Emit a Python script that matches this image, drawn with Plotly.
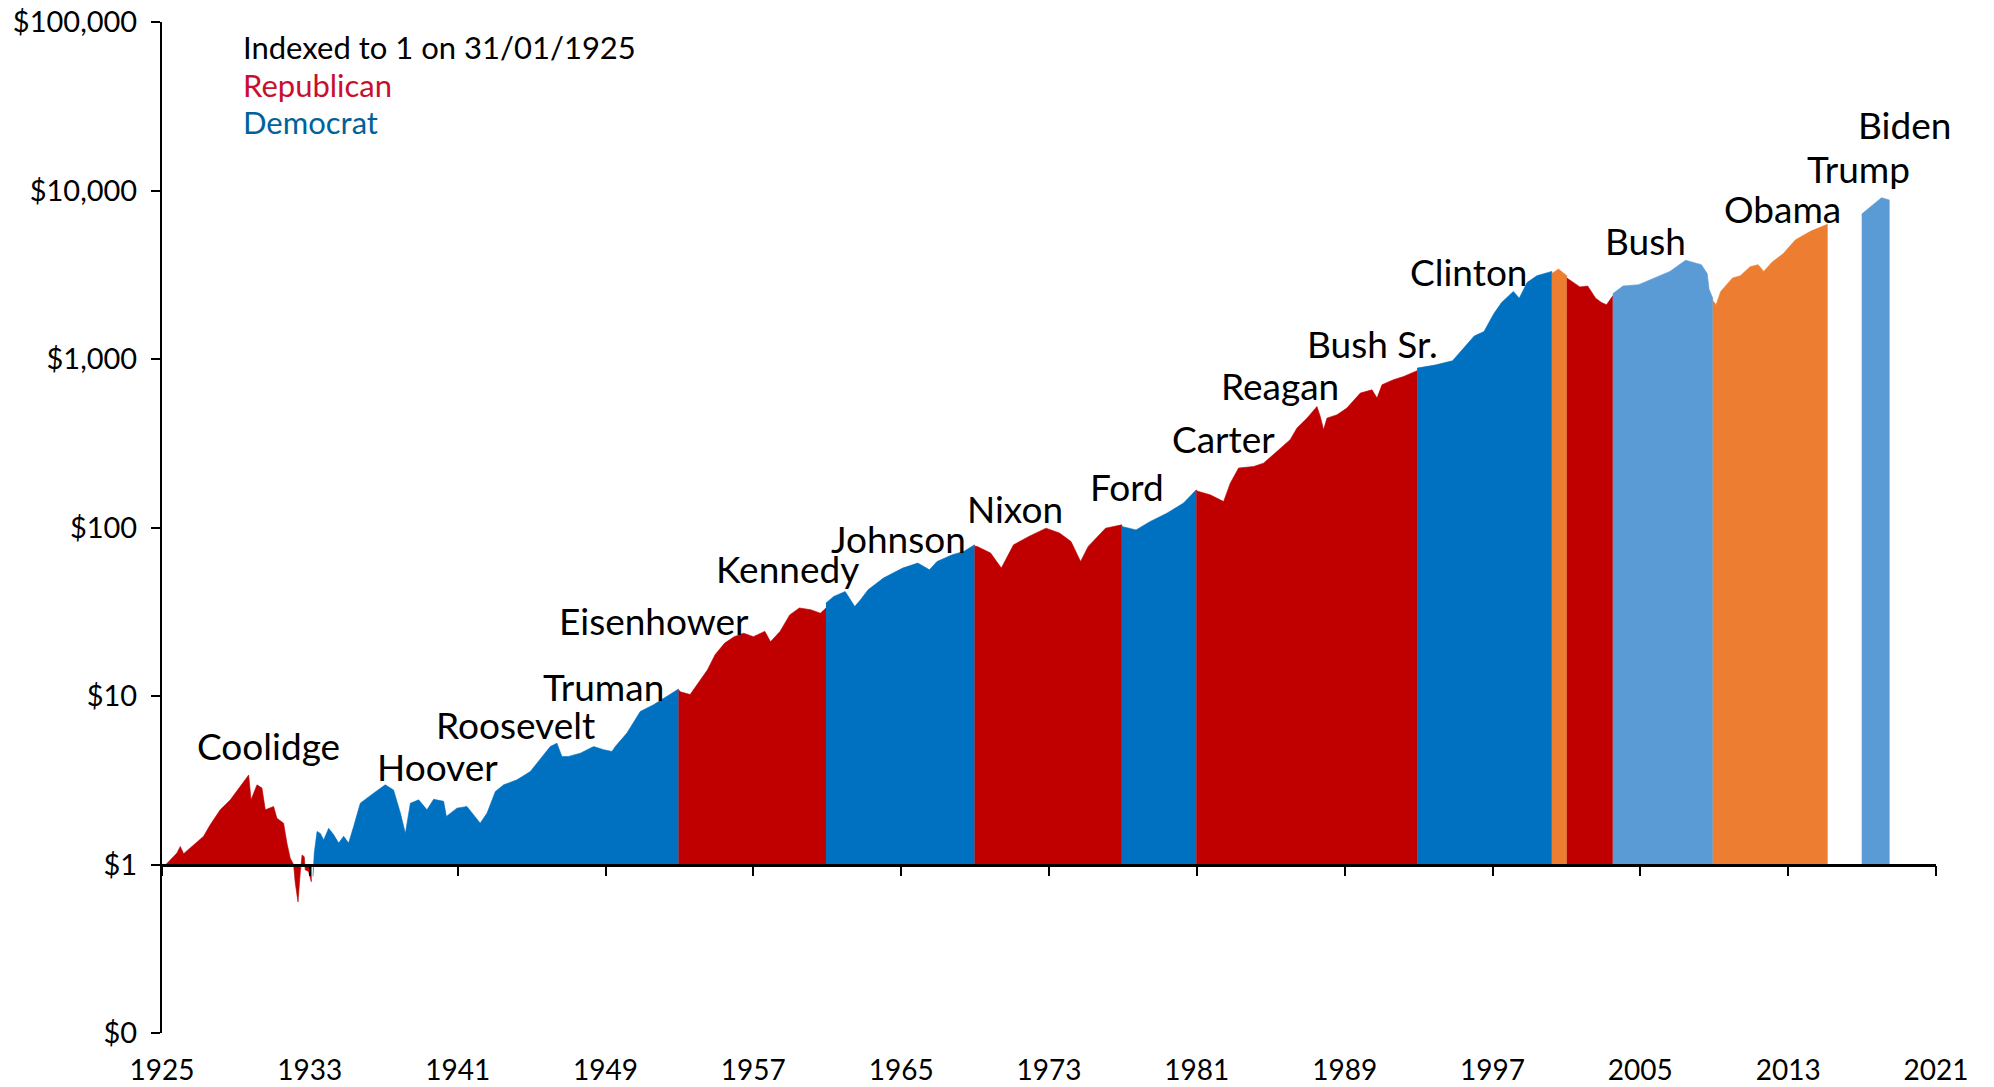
import plotly.graph_objects as go

# ---------------- DATA (index level, 1 = 31/01/1925) ----------------
coolidge_years = [1925.0, 1925.09, 1925.36, 1925.81, 1925.99, 1926.17, 1926.62, 1927.25, 1927.61, 1928.15, 1928.70,
                  1929.24, 1929.69, 1929.82, 1930.14, 1930.41, 1930.59, 1931.04, 1931.22, 1931.58, 1931.76, 1931.94,
                  1932.12, 1932.21, 1932.36, 1932.48, 1932.58, 1932.70, 1932.75, 1932.93, 1933.08]
coolidge_vals = [1.00, 0.97, 1.04, 1.17, 1.28, 1.16, 1.28, 1.47, 1.72, 2.11, 2.42,
                 2.90, 3.40, 2.42, 2.97, 2.84, 2.11, 2.21, 1.88, 1.76, 1.34, 1.09,
                 1.00, 0.78, 0.60, 0.89, 1.14, 1.11, 0.93, 0.91, 0.79]

hoover_years = [1933.17, 1933.24, 1933.39, 1933.57, 1933.75, 1934.02, 1934.29, 1934.56, 1934.83, 1935.10, 1935.37,
                1935.73, 1936.45, 1937.08, 1937.53, 1937.90, 1938.17, 1938.44, 1938.89, 1939.34, 1939.70, 1940.24,
                1940.39, 1940.96, 1941.50, 1941.86, 1942.22, 1942.59, 1943.04, 1943.49, 1944.21, 1944.93, 1945.65,
                1946.01, 1946.37, 1946.64, 1947.00, 1947.64, 1948.36, 1948.90, 1949.35, 1949.53, 1950.16, 1950.88,
                1951.60, 1952.33, 1952.95]
hoover_vals = [0.85, 1.17, 1.57, 1.53, 1.40, 1.64, 1.50, 1.34, 1.47, 1.34, 1.68,
               2.31, 2.65, 2.97, 2.77, 2.02, 1.53, 2.31, 2.42, 2.11, 2.44, 2.37,
               1.93, 2.16, 2.21, 1.97, 1.76, 2.02, 2.71, 2.97, 3.18, 3.56, 4.48,
               5.01, 5.25, 4.38, 4.38, 4.58, 5.01, 4.80, 4.69, 5.01, 6.03, 8.09,
               8.87, 9.93, 10.99]

eisenhower_years = [1952.95, 1953.05, 1953.58, 1953.90, 1954.52, 1954.93, 1955.45, 1955.96, 1956.48, 1957.00,
                    1957.62, 1957.93, 1958.45, 1958.97, 1959.49, 1960.11, 1960.63, 1960.93]
eisenhower_vals = [10.9, 10.6, 10.2, 11.4, 14.3, 17.6, 20.6, 22.5, 23.6, 22.5,
                   24.2, 21.0, 24.2, 30.3, 33.3, 32.5, 31.0, 33.3]

kennedy_years = [1960.93, 1961.35, 1961.97, 1962.28, 1962.49, 1962.80, 1963.21, 1964.04, 1965.08, 1965.90,
                 1966.53, 1966.94, 1967.77, 1968.39, 1968.97]
kennedy_vals = [35.6, 39.0, 41.7, 37.2, 34.0, 37.2, 42.7, 50.1, 57.4, 61.5,
                56.1, 62.8, 68.9, 72.1, 78.9]

nixon_years = [1968.97, 1969.12, 1969.84, 1970.42, 1971.08, 1971.91, 1972.84, 1973.57, 1974.19, 1974.71,
               1975.12, 1975.64, 1976.06, 1976.94]
nixon_vals = [77.6, 77.1, 70.5, 57.4, 78.9, 88.5, 99.1, 92.7, 82.6, 62.8,
              77.1, 88.5, 99.1, 103.7]

ford_years = [1976.94, 1977.40, 1977.71, 1978.48, 1979.38, 1980.28, 1980.97]
ford_vals = [101.4, 99.1, 96.8, 108.6, 121.6, 139.6, 167.5]

carter_years = [1980.97, 1981.09, 1981.72, 1982.45, 1982.81, 1983.26, 1984.07, 1984.61, 1985.33, 1986.05,
                1986.42, 1986.96, 1987.50, 1987.68, 1987.86, 1988.04, 1988.59, 1989.12, 1989.85, 1990.48,
                1990.75, 1991.02, 1991.64, 1992.19, 1992.82, 1992.92]
carter_vals = [166, 163.7, 156.3, 142.6, 183.2, 225.4, 230.1, 241.0, 282.5, 331.9,
               389.0, 445.6, 522.4, 456.0, 380.2, 445.6, 466.7, 511.7, 628.1, 656.1,
               586.1, 703.1, 753.4, 787.0, 843.3, 851]

bushsr_years = [1992.92, 1993.89, 1994.84, 1995.16, 1996.01, 1996.54, 1997.07, 1997.49, 1998.13, 1998.45,
                1998.87, 1999.40, 2000.21]
bushsr_vals = [883, 920, 977, 1072, 1368, 1455, 1858, 2163, 2518, 2296,
               2844, 3119, 3311]

clinton_years = [2000.21, 2000.57, 2001.02]
clinton_vals = [3214, 3420, 3119]

bush_red_years = [2001.02, 2001.73, 2002.15, 2002.58, 2002.90, 2003.17, 2003.51]
bush_red_vals = [3027, 2679, 2710, 2296, 2163, 2099, 2371]

bush_years = [2003.51, 2004.06, 2004.91, 2005.76, 2006.60, 2007.45, 2007.87, 2008.30, 2008.62, 2008.72, 2008.92]
bush_vals = [2443, 2710, 2761, 3027, 3311, 3855, 3741, 3631, 3214, 2594, 2291]

obama_years = [2008.92, 2009.10, 2009.35, 2009.99, 2010.41, 2010.94, 2011.37, 2011.68, 2012.11, 2012.74,
               2013.38, 2014.23, 2015.12]
obama_vals = [2228, 2099, 2518, 3027, 3119, 3524, 3631, 3311, 3741, 4227,
              5082, 5741, 6295]

biden_years = [2016.98, 2017.62, 2018.05, 2018.47]
biden_vals = [7244, 8260, 9057, 8790]

president_labels = ["Coolidge", "Hoover", "Roosevelt", "Truman", "Eisenhower", "Kennedy", "Johnson", "Nixon",
                    "Ford", "Carter", "Reagan", "Bush Sr.", "Clinton", "Bush", "Obama", "Trump", "Biden"]

y_tick_vals = [0.1, 1, 10, 100, 1000, 10000, 100000]
y_tick_text = ["$0", "$1", "$10", "$100", "$1,000", "$10,000", "$100,000"]
x_tick_years = [1925, 1933, 1941, 1949, 1957, 1965, 1973, 1981, 1989, 1997, 2005, 2013, 2021]

# ---------------- STYLE / LAYOUT ----------------
RED = "#C00000"
BLUE = "#0070C0"
LBLUE = "#5B9BD5"
ORANGE = "#ED7D31"
FONT = "Lato"

segments = [
    (coolidge_years, coolidge_vals, RED),
    (hoover_years, hoover_vals, BLUE),
    (eisenhower_years, eisenhower_vals, RED),
    (kennedy_years, kennedy_vals, BLUE),
    (nixon_years, nixon_vals, RED),
    (ford_years, ford_vals, BLUE),
    (carter_years, carter_vals, RED),
    (bushsr_years, bushsr_vals, BLUE),
    (clinton_years, clinton_vals, ORANGE),
    (bush_red_years, bush_red_vals, RED),
    (bush_years, bush_vals, LBLUE),
    (obama_years, obama_vals, ORANGE),
    (biden_years, biden_vals, LBLUE),
]

# label anchor positions (year, log10 value)
label_pos = [(1930.77, 0.709), (1939.92, 0.581), (1944.12, 0.830), (1948.87, 1.057), (1951.62, 1.449),
             (1958.85, 1.758), (1964.83, 1.932), (1971.17, 2.113), (1977.22, 2.242), (1982.45, 2.528),
             (1985.49, 2.845), (1990.51, 3.094), (1995.74, 3.517), (2005.30, 3.706), (2012.67, 3.894),
             (2016.80, 4.128), (2019.28, 4.392)]

fig = go.Figure()
base = y_tick_vals[1]  # index base = 1
for xs, ys, col in segments:
    fig.add_trace(go.Scatter(
        x=list(xs) + [xs[-1], xs[0]],
        y=list(ys) + [base, base],
        mode="lines", fill="toself", fillcolor=col,
        line=dict(color=col, width=0.6),
        hoverinfo="skip", showlegend=False,
    ))

# invisible trace on the secondary x-axis so it renders
fig.add_trace(go.Scatter(x=[x_tick_years[0], x_tick_years[-1]], y=[base, base], xaxis="x2",
                         mode="lines", line=dict(width=0), hoverinfo="skip", showlegend=False))

annotations = []
for name, (lx, ly) in zip(president_labels, label_pos):
    annotations.append(dict(x=lx, y=ly, xref="x", yref="y", text=name, showarrow=False,
                            font=dict(family=FONT, size=37, color="#000000"),
                            xanchor="center", yanchor="middle"))

legend_lines = [("Indexed to 1 on 31/01/1925", "#000000", 0.9756),
                ("Republican", "#C8102E", 0.9377),
                ("Democrat", "#00629B", 0.9015)]
for txt, col, py in legend_lines:
    annotations.append(dict(x=0.0447, y=py, xref="paper", yref="paper", text=txt, showarrow=False,
                            font=dict(family=FONT, size=31, color=col), xanchor="left", yanchor="middle"))

# the page body has an 8px margin, so the figure is offset accordingly
fig.update_layout(
    width=1978, height=1079,
    margin=dict(l=154, r=50, t=14, b=54, autoexpand=False),
    paper_bgcolor="white", plot_bgcolor="white",
    showlegend=False,
    annotations=annotations,
    xaxis=dict(range=[x_tick_years[0], x_tick_years[-1]], tickvals=x_tick_years,
               ticktext=[str(v) for v in x_tick_years], automargin=False,
               showgrid=False, zeroline=False, showline=False, ticks="",
               ticklabelstandoff=18, ticklabeloverflow="allow",
               tickfont=dict(family=FONT, size=28, color="#000000")),
    xaxis2=dict(range=[x_tick_years[0], x_tick_years[-1]], overlaying="x", anchor="free",
                position=1 / 6, side="bottom", tickvals=x_tick_years, showticklabels=False,
                ticks="outside", ticklen=10, tickwidth=2, tickcolor="#000000", automargin=False,
                showline=True, linewidth=2.5, linecolor="#000000", showgrid=False, zeroline=False),
    yaxis=dict(type="log", range=[-1, 5], tickvals=y_tick_vals, ticktext=y_tick_text,
               showgrid=False, zeroline=False, showline=True, linewidth=2, linecolor="#000000",
               ticks="outside", ticklen=9, tickwidth=2, tickcolor="#000000", automargin=False,
               ticklabelstandoff=8, ticklabeloverflow="allow",
               tickfont=dict(family=FONT, size=29, color="#000000")),
)

fig.write_html("out.html")
